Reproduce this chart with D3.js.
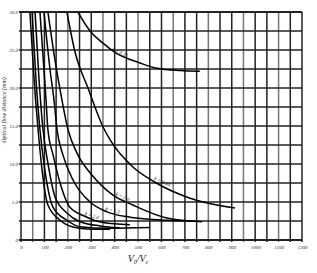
<!DOCTYPE html>
<html>
<head>
<meta charset="utf-8">
<script src="https://cdn.jsdelivr.net/npm/d3@7"></script>
<style>
  body { margin: 0; background: #fff; }
  svg { display: block; }
  .tick-label { font-family: "Liberation Serif", serif; font-style: italic; font-size: 5px; fill: #333; }
  .curve-label { font-family: "Liberation Serif", serif; font-style: italic; font-size: 5px; fill: #111; }
</style>
</head>
<body>
<svg id="chart"></svg>
<script>
// axis values
const xTickValues = d3.range(0, 1201, 100);
const xGridValues = d3.range(0, 1201, 50);
const yTickValues = [0, 5, 10, 15, 20, 25, 30];
const yGridValues = d3.range(0, 30.1, 2.5);
const yTickLabels = ["0", "5.0", "10.0", "15.0", "20.0", "25.0", "30.0"];

// curves, [x, y]
const curveA = [[243, 30], [295, 27.5], [350, 25.9], [401, 24.7], [508, 23.3], [581, 22.6], [680, 22.3], [764, 22.2]];
const curveB = [[196, 30], [231, 24.7], [286, 20.0], [350, 14.9], [380, 13.2], [478, 9.6], [572, 7.6], [722, 5.5], [914, 4.2]];
const curveC = [[115, 30], [145, 23.7], [175, 18.4], [201, 14.5], [243, 11.2], [303, 8.55], [393, 5.9], [478, 4.6], [623, 2.9], [773, 2.4]];
const curveD = [[98, 30], [124, 22.4], [141, 18.4], [154, 14.5], [179, 11.2], [222, 7.9], [295, 5.0], [367, 3.7], [465, 3.0], [623, 2.6], [743, 2.5]];
const curveE = [[81, 30], [98, 22.4], [107, 18.4], [115, 14.5], [137, 11.2], [167, 7.5], [209, 4.3], [282, 3.0], [350, 2.3], [465, 2.0]];
const curveF = [[60, 30], [77, 21.1], [94, 14.5], [115, 10.1], [145, 5.7], [196, 3.55], [252, 2.4], [337, 1.85], [423, 1.6]];
const curveG = [[47, 30], [64, 21.1], [81, 14.5], [102, 9.2], [137, 4.3], [196, 2.6], [252, 1.75], [367, 1.55], [551, 1.65]];
const curveH = [[38, 30], [56, 21.1], [73, 14.5], [90, 9.2], [115, 4.6], [167, 2.6], [222, 1.7], [282, 1.45], [380, 1.4]];

const curves = [curveA, curveB, curveC, curveD, curveE, curveF, curveG, curveH];

// labels sitting on some curves: [curve index, x, y, text]
const curveLabels = [
  [0, 420, 24.3, "k = 0.25"],
  [1, 600, 7.3, "k = 0.50"],
  [2, 430, 5.3, "k = 1.0"],
  [3, 390, 3.5, "k = 1.5"],
  [4, 300, 2.8, "k = 2.0"]
];

const width = 317, height = 273;
const margin = { top: 12, right: 15, bottom: 33, left: 21 };
const innerW = width - margin.left - margin.right;
const innerH = height - margin.top - margin.bottom;

const svg = d3.select("#chart").attr("width", width).attr("height", height);
const g = svg.append("g").attr("transform", `translate(${margin.left},${margin.top})`);

const x = d3.scaleLinear().domain([0, 1200]).range([0, innerW]);
const y = d3.scaleLinear().domain([0, 30]).range([innerH, 0]);

// grid
g.append("g").selectAll("line").data(xGridValues).join("line")
  .attr("x1", d => x(d)).attr("x2", d => x(d))
  .attr("y1", 0).attr("y2", innerH + 2)
  .attr("stroke", (d, i) => i % 3 === 1 ? "#777" : "#222")
  .attr("stroke-width", 1.5);

g.append("g").selectAll("line").data(yGridValues).join("line")
  .attr("x1", -2).attr("x2", innerW)
  .attr("y1", d => y(d)).attr("y2", d => y(d))
  .attr("stroke", "#222")
  .attr("stroke-width", (d, i) => (i === 0 || i === yGridValues.length - 1) ? 1.9 : 1.5);

// axis labels via d3 axes, domain and ticks hidden
const xAxis = g.append("g").attr("transform", `translate(0,${innerH})`)
  .call(d3.axisBottom(x).tickValues(xTickValues).tickSize(0).tickPadding(5).tickFormat(d3.format("d")));
xAxis.select(".domain").remove();
xAxis.selectAll("text").attr("class", "tick-label").attr("font-size", null).attr("font-family", null);

const yAxis = g.append("g")
  .call(d3.axisLeft(y).tickValues(yTickValues).tickSize(0).tickPadding(3)
    .tickFormat((d, i) => yTickLabels[i]));
yAxis.select(".domain").remove();
yAxis.selectAll("text").attr("class", "tick-label").attr("font-size", null).attr("font-family", null);

// curves
g.append("clipPath").attr("id", "plotclip").append("rect")
  .attr("width", innerW).attr("height", innerH);

const line = d3.line().x(d => x(d[0])).y(d => y(d[1])).curve(d3.curveMonotoneX);

g.append("g").attr("clip-path", "url(#plotclip)")
  .selectAll("path").data(curves).join("path")
  .attr("d", line)
  .attr("fill", "none")
  .attr("stroke", "#000")
  .attr("stroke-width", 1.5);

// labels along curves
curveLabels.forEach(([ci, lx, ly, txt]) => {
  const c = curves[ci];
  const j = c.findIndex(p => p[0] > lx);
  const p0 = c[Math.max(j - 1, 0)], p1 = c[j];
  const ang = Math.atan2(y(p1[1]) - y(p0[1]), x(p1[0]) - x(p0[0])) * 180 / Math.PI;
  g.append("text").attr("class", "curve-label")
    .attr("transform", `translate(${x(lx)},${y(ly) - 1.5}) rotate(${ang})`)
    .attr("text-anchor", "middle")
    .text(txt);
});

// axis titles
svg.append("text")
  .attr("transform", `translate(5.5,110) rotate(-90)`)
  .attr("text-anchor", "middle")
  .attr("font-family", "Liberation Serif, serif")
  .attr("font-style", "italic")
  .attr("font-size", 6)
  .attr("fill", "#222")
  .text("Optical flow distance (mm)");

const xt = svg.append("text")
  .attr("x", 138).attr("y", 262)
  .attr("text-anchor", "middle")
  .attr("font-family", "Liberation Serif, serif")
  .attr("font-style", "italic")
  .attr("font-size", 10)
  .attr("fill", "#222");
xt.append("tspan").text("V");
xt.append("tspan").attr("font-size", 6).attr("dy", 2).text("0");
xt.append("tspan").attr("dy", -2).text("/V");
xt.append("tspan").attr("font-size", 6).attr("dy", 2).text("c");
</script>
</body>
</html>
